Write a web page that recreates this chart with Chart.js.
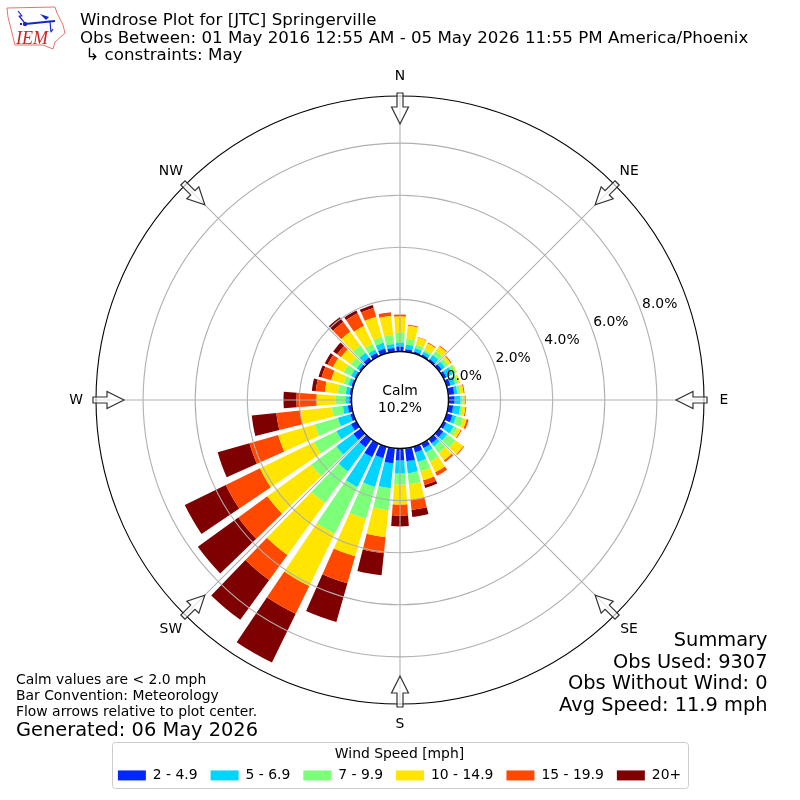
<!DOCTYPE html>
<html><head><meta charset="utf-8">
<style>html,body{margin:0;padding:0;background:#fff}canvas{display:block}</style>
<script src="https://cdn.jsdelivr.net/npm/chart.js"></script>
</head><body><canvas id="c" width="800" height="800"></canvas>
<script>
const directions=[0,10,20,30,40,50,60,70,80,90,100,110,120,130,140,150,160,170,180,190,200,210,220,230,240,250,260,270,280,290,300,310,320,330,340,350];
const speed2to5=[.19,.10,.08,.08,.08,.12,.12,.15,.23,.23,.19,.23,.12,.19,.19,.19,.23,.50,.46,.58,.46,.58,.38,.35,.23,.12,.15,.08,.08,.08,.08,.08,.15,.15,.19,.15];
const speed5to7=[.15,.17,.13,.12,.19,.15,.27,.19,.12,.23,.27,.15,.31,.19,.15,.19,.38,.46,.50,.96,1.15,1.27,1.15,.81,.62,.50,.19,.15,.15,.12,.15,.12,.23,.15,.23,.15];
const speed7to10=[.38,.23,.13,.08,.19,.15,.15,.12,.12,.08,.08,.27,.15,.38,.31,.38,.38,.42,.42,.85,1.27,2.00,1.50,1.19,.96,.92,.42,.38,.31,.19,.31,.27,.35,.23,.23,.35];
const speed10to15=[.62,.50,.29,.27,.23,.12,.04,.08,.12,.08,.12,.15,.15,.38,.35,.46,.35,.62,.77,1.04,1.50,2.23,2.46,2.08,2.31,1.46,1.23,.73,.50,.50,.46,.46,.65,.77,.81,.73];
const speed15to20=[.08,.04,.02,.04,.04,.04,0,0,.04,.04,.04,.08,.04,.04,.08,.15,.19,.38,.42,.62,1.08,1.19,1.19,1.38,1.46,1.15,.92,.77,.35,.38,.23,.19,.46,.54,.35,.15];
const speed20up=[0,0,0,0,0,0,0,0,0,0,0,0,0,0,0,0,.12,.27,.42,.85,1.54,2.08,1.89,1.92,1.75,1.27,.95,.50,.15,.12,.12,.19,.23,.12,.12,0];
const seriesLabels=['2 - 4.9','5 - 6.9','7 - 9.9','10 - 14.9','15 - 19.9','20+'];
const seriesValues=[speed2to5,speed5to7,speed7to10,speed10to15,speed15to20,speed20up];
const seriesColors=['#0028ff','#00d4ff','#7cff79','#ffe500','#ff4800','#7f0000'];
const tickValues=[0,2,4,6,8];
const compass=[['N',0],['NE',45],['E',90],['SE',135],['S',180],['SW',225],['W',270],['NW',315]];
const titleLines=['Windrose Plot for [JTC] Springerville','Obs Between: 01 May 2016 12:55 AM - 05 May 2026 11:55 PM America/Phoenix',' \u21b3 constraints: May'];
const summaryLines=['Summary','Obs Used: 9307','Obs Without Wind: 0','Avg Speed: 11.9 mph'];
const noteLines=['Calm values are < 2.0 mph','Bar Convention: Meteorology','Flow arrows relative to plot center.'];
const generatedText='Generated: 06 May 2026';
const calmLines=['Calm','10.2%'];
const legendTitle='Wind Speed [mph]';
const FONT='"DejaVu Sans"';
const BAR_DEG=8, PXPCT=26.05, HOLE=48.5, OUTER=304;
const rad=d=>d*Math.PI/180;

class WindRoseController extends Chart.PolarAreaController{
  updateElements(arcs,start,count,mode){
    const scale=this._cachedMeta.rScale, chart=this.chart, ds=chart.data.datasets, di=this.index;
    for(let i=start;i<start+count;i++){
      let base=0;
      for(let k=0;k<di;k++) base+=ds[k].data[i];
      const v=ds[di].data[i];
      const a=rad(chart.data.labels[i]-90), hw=rad(BAR_DEG/2);
      this.updateElement(arcs[i],i,{
        x:scale.xCenter,y:scale.yCenter,
        innerRadius:scale.getDistanceFromCenterForValue(base),
        outerRadius:scale.getDistanceFromCenterForValue(base+v),
        startAngle:a-hw,endAngle:a+hw,circumference:2*hw,
        options:this.resolveDataElementOptions(i,mode)
      },mode);
    }
  }
}
WindRoseController.id='windrose';
WindRoseController.defaults=Chart.PolarAreaController.defaults;
WindRoseController.overrides=Chart.PolarAreaController.overrides;
Chart.register(WindRoseController);

function text(ctx,s,x,y,size,align,extra){
  ctx.font=(extra||'')+' '+size+'px '+FONT;
  ctx.textAlign=align||'left';ctx.textBaseline='middle';ctx.fillStyle='#000';
  ctx.fillText(s,x,y);
}
function drawLogo(ctx){
  ctx.save();
  ctx.strokeStyle='#e87070';ctx.lineWidth=1;ctx.lineJoin='round';
  ctx.beginPath();
  [[7,8],[55,7],[57,13],[63,25],[65,33],[55,42],[53,49],[43,45],[15,45],[12,33],[8,17]].forEach((p,i)=>i?ctx.lineTo(p[0],p[1]):ctx.moveTo(p[0],p[1]));
  ctx.closePath();ctx.stroke();
  ctx.strokeStyle='#1428c8';ctx.fillStyle='#1428c8';ctx.lineWidth=2;
  ctx.beginPath();ctx.moveTo(25,24);ctx.lineTo(55,21);ctx.stroke();
  ctx.lineWidth=1.2;
  ctx.beginPath();ctx.moveTo(18,11);ctx.lineTo(22,16);ctx.lineTo(19,16);ctx.lineTo(24,22);ctx.stroke();
  ctx.beginPath();ctx.moveTo(40,14);ctx.lineTo(49,17);ctx.lineTo(46,20);ctx.closePath();ctx.fill();
  ctx.beginPath();ctx.arc(25,24,2.2,0,7);ctx.fill();
  ctx.beginPath();ctx.moveTo(50,22);ctx.lineTo(51,32);ctx.lineTo(53,29);ctx.stroke();
  ctx.fillRect(20,23,2,2);
  ctx.fillStyle='#d02020';ctx.font='italic 18px "Liberation Serif"';ctx.textAlign='left';ctx.textBaseline='alphabetic';
  ctx.fillText('IEM',16,44);
  ctx.restore();
}
function drawArrow(ctx,cx,cy,deg){
  ctx.save();
  ctx.translate(cx,cy);ctx.rotate(rad(deg));
  const t=-OUTER-3;
  ctx.beginPath();
  ctx.moveTo(-3,t);ctx.lineTo(3,t);ctx.lineTo(3,t+14);ctx.lineTo(8.5,t+14);ctx.lineTo(0,t+31);ctx.lineTo(-8.5,t+14);ctx.lineTo(-3,t+14);ctx.closePath();
  ctx.fillStyle='rgba(255,255,255,0.65)';ctx.fill();
  ctx.strokeStyle='#333';ctx.lineWidth=1.2;ctx.stroke();
  ctx.restore();
}
const decor={
  id:'decor',
  afterLayout(chart){
    const s=chart.scales.r;
    s.xCenter=400;s.yCenter=400;s.drawingArea=OUTER;
    const l=chart.legend;
    l.left=92;l.right=707;l.width=615;l.top=746;l.bottom=788;l.height=42;
  },
  beforeDraw(chart){
    const ctx=chart.ctx;
    ctx.save();
    ctx.beginPath();ctx.roundRect(112.5,742.5,576,46,3);
    ctx.fillStyle='#fff';ctx.fill();ctx.strokeStyle='#ccc';ctx.lineWidth=1;ctx.stroke();
    ctx.restore();
  },
  afterDraw(chart){
    const ctx=chart.ctx,s=chart.scales.r,cx=s.xCenter,cy=s.yCenter;
    ctx.save();
    ctx.strokeStyle='#b0b0b0';ctx.lineWidth=1.1;
    compass.forEach(([n,d])=>{
      const a=rad(d);
      ctx.beginPath();ctx.moveTo(cx+HOLE*Math.sin(a),cy-HOLE*Math.cos(a));
      ctx.lineTo(cx+OUTER*Math.sin(a),cy-OUTER*Math.cos(a));ctx.stroke();
    });
    ctx.strokeStyle='#000';ctx.lineWidth=1.1;
    ctx.beginPath();ctx.arc(cx,cy,OUTER,0,7);ctx.stroke();
    const hole=s.getDistanceFromCenterForValue(0);
    ctx.beginPath();ctx.arc(cx,cy,hole,0,7);ctx.fillStyle='#fff';ctx.fill();ctx.strokeStyle='#000';ctx.lineWidth=1.4;ctx.stroke();
    text(ctx,calmLines[0],cx,cy-8.5,13.9,'center');
    text(ctx,calmLines[1],cx,cy+8,13.9,'center');
    compass.forEach(([n,d])=>{
      drawArrow(ctx,cx,cy,d);
      const a=rad(d),R=OUTER+20;
      text(ctx,n,cx+R*Math.sin(a),cy-R*Math.cos(a),13.9,'center');
    });
    s.ticks.forEach(t=>{
      const r=s.getDistanceFromCenterForValue(t.value)+20,a=rad(20.3);
      text(ctx,t.value.toFixed(1)+'%',cx+r*Math.cos(a),cy-r*Math.sin(a)+0.5,13.9,'center');
    });
    titleLines.forEach((t,i)=>text(ctx,t,80,21+i*17.5,16.67,'left'));
    drawLogo(ctx);
    summaryLines.forEach((t,i)=>text(ctx,t,767.5,641+i*21.7,19.4,'right'));
    noteLines.forEach((t,i)=>text(ctx,t,16,680.5+i*16,13.9,'left'));
    text(ctx,generatedText,16,730.5,19.4,'left');
    ctx.restore();
  }
};
new Chart(document.getElementById('c'),{
  type:'windrose',
  data:{labels:directions,datasets:seriesValues.map((v,i)=>({label:seriesLabels[i],data:v,backgroundColor:seriesColors[i],borderWidth:0,clip:false}))},
  plugins:[decor],
  options:{
    responsive:false,animation:false,devicePixelRatio:1,
    layout:{padding:{top:96,left:10,right:10,bottom:10}},
    scales:{r:{
      min:-HOLE/PXPCT,max:(OUTER-HOLE)/PXPCT,
      afterBuildTicks:sc=>{sc.ticks=tickValues.map(v=>({value:v}));},
      ticks:{display:false,backdropPadding:0},
      grid:{color:'#b0b0b0',lineWidth:1.1,circular:true,z:1},
      angleLines:{display:false},pointLabels:{display:false}
    }},
    plugins:{
      tooltip:{enabled:false},
      legend:{display:true,position:'bottom',
        title:{display:true,text:legendTitle,color:'#000',font:{family:FONT,size:13.9},padding:{top:1,bottom:-8.2}},
        labels:{boxWidth:28,boxHeight:10,padding:13,color:'#000',font:{family:FONT,size:13.9},
          generateLabels:ch=>ch.data.datasets.map((d,i)=>({text:d.label,fillStyle:d.backgroundColor,strokeStyle:d.backgroundColor,lineWidth:0,hidden:false,datasetIndex:i}))}
      }
    }
  }
});
</script></body></html>
